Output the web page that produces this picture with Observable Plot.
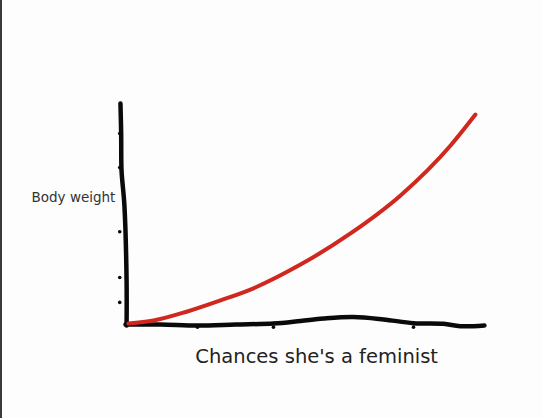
<!DOCTYPE html>
<html>
<head>
<meta charset="utf-8">
<script src="https://cdn.jsdelivr.net/npm/d3@7"></script>
<script src="https://cdn.jsdelivr.net/npm/@observablehq/plot@0.6"></script>
<style>
  html, body { margin: 0; padding: 0; background: #fdfdfd; }
  #wrap { position: relative; width: 543px; height: 418px; overflow: hidden; }
  #edge { position: absolute; left: 0; top: 0; width: 2px; height: 418px; background: #3a3a3a; }
</style>
</head>
<body>
<div id="wrap"><div id="chart"></div><div id="edge"></div></div>
<script>
// Red curve: chances she's a feminist (x) vs body weight (y)
const curveX = [0.8, 7.8, 17.2, 26.4, 34.7, 48.6, 62.5, 76.4, 90.3, 97.2];
const curveY = [0.45, 1.8, 5.9, 10.9, 15.8, 27.1, 41.2, 58.4, 81.0, 95.0];

// Hand-drawn x-axis baseline (wobbly)
const baseX = [0, 9.7, 20, 30.6, 41.1, 48.6, 55, 63.3, 71.7, 80, 88.3, 93, 99.7];
const baseY = [0, 0, -0.45, 0, 0.45, 1.6, 2.7, 3.4, 2.3, 0.6, 0.3, -0.8, -0.45];

// Hand-drawn y-axis line
const axisX = [-1.4, -1.2, -1.1, -0.3, 0.3, 0.3];
const axisY = [100, 86, 69.7, 53.8, 20, -0.5];

// Small tick bumps
const yTicks = [86.4, 71, 42, 21.3, 10];
const xTicks = [20, 41.1, 80];

const xLabel = "Chances she's a feminist";
const yLabel = "Body weight";

const curve = curveX.map((x, i) => ({x, y: curveY[i]}));
const base = baseX.map((x, i) => ({x, y: baseY[i]}));
const axis = axisX.map((x, i) => ({x, y: axisY[i]}));

const chart = Plot.plot({
  width: 543,
  height: 418,
  margin: 0,
  style: {background: "transparent"},
  x: {domain: [0, 100], range: [125, 485], axis: null},
  y: {domain: [0, 100], range: [324, 103], axis: null},
  marks: [
    Plot.line(axis, {x: "x", y: "y", stroke: "#0a0a0a", strokeWidth: 4.5, curve: "catmull-rom", strokeLinecap: "round"}),
    Plot.dot(yTicks, {x: -1.6, y: d => d, r: 1.8, fill: "#0a0a0a"}),
    Plot.line(base, {x: "x", y: "y", stroke: "#0a0a0a", strokeWidth: 4.5, curve: "catmull-rom", strokeLinecap: "round"}),
    Plot.dot(xTicks, {x: d => d, y: -1.2, r: 1.8, fill: "#0a0a0a"}),
    Plot.line(curve, {x: "x", y: "y", stroke: "#d0271f", strokeWidth: 4, curve: "monotone-x", strokeLinecap: "round"}),
    Plot.text([yLabel], {x: -2.8, y: 57.5, text: d => d, textAnchor: "end", fontSize: 13.5, fill: "#333", fontFamily: "DejaVu Sans"}),
    Plot.text([xLabel], {x: 53.1, y: -14.5, text: d => d, textAnchor: "middle", fontSize: 19.5, fill: "#222", fontFamily: "DejaVu Sans"})
  ]
});
document.getElementById("chart").appendChild(chart);
</script>
</body>
</html>
